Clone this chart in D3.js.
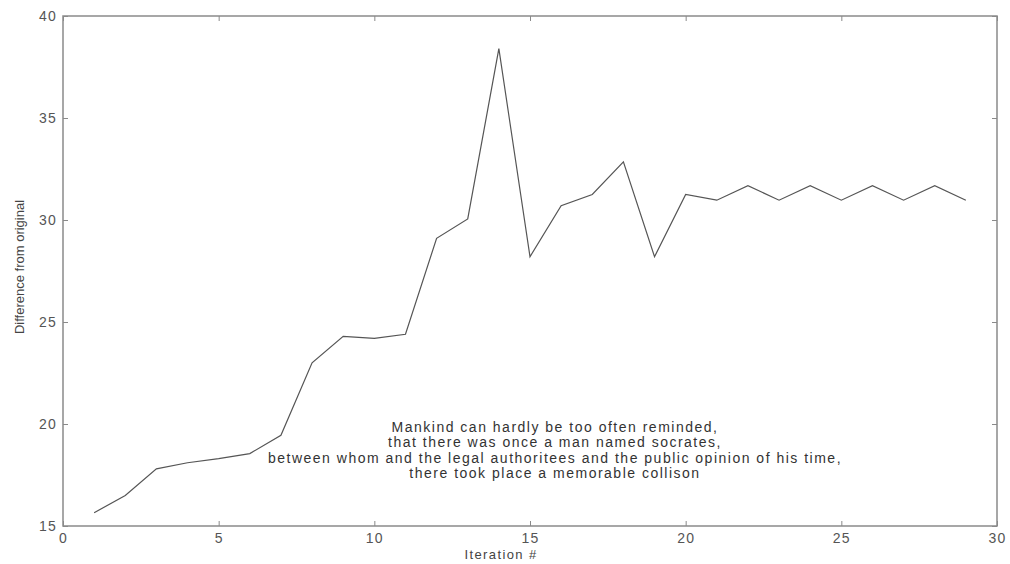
<!DOCTYPE html>
<html>
<head>
<meta charset="utf-8">
<script src="https://cdn.jsdelivr.net/npm/d3@7"></script>
<style>
  body { margin: 0; background: #fff; }
  svg { font-family: "Liberation Sans", Arial, sans-serif; }
</style>
</head>
<body>
<svg></svg>
<script>
const width = 1010;
const height = 564;
const margin = {top: 16, right: 13, bottom: 38, left: 63};

// data
const iterations = [1,2,3,4,5,6,7,8,9,10,11,12,13,14,15,16,17,18,19,20,21,22,23,24,25,26,27,28,29];
const difference = [15.65,16.5,17.8,18.1,18.3,18.55,19.45,23.0,24.3,24.2,24.4,29.1,30.05,38.4,28.2,30.7,31.25,32.85,28.2,31.25,30.97,31.68,30.97,31.68,30.97,31.68,30.97,31.68,30.97];
const xTicks = [0,5,10,15,20,25,30];
const yTicks = [15,20,25,30,35,40];
const note = [
  "Mankind can hardly be too often reminded,",
  "that there was once a man named socrates,",
  "between whom and the legal authoritees and the public opinion of his time,",
  "there took place a memorable collison"
];

const data = iterations.map((d, i) => ({x: d, y: difference[i]}));

const xScale = d3.scaleLinear()
                  .domain([0, 30])
                  .range([margin.left, width - margin.right]);

const yScale = d3.scaleLinear()
                  .domain([15, 40])
                  .range([height - margin.bottom, margin.top]);

const svg = d3.select("svg")
              .attr("width", width)
              .attr("height", height);

const axisColor = "#8a8a8a";
const labelColor = "#555";

// frame
svg.append("rect")
  .attr("x", margin.left)
  .attr("y", margin.top)
  .attr("width", width - margin.left - margin.right)
  .attr("height", height - margin.top - margin.bottom)
  .attr("fill", "none")
  .attr("stroke", axisColor)
  .attr("stroke-width", 1.5);

function styleAxis(g) {
  g.select(".domain").remove();
  g.selectAll(".tick line").attr("stroke", axisColor);
  g.selectAll(".tick text")
    .attr("fill", labelColor)
    .style("font-size", "14px")
    .style("letter-spacing", "1.2px");
}

svg.append("g")
  .attr("transform", `translate(0, ${height - margin.bottom})`)
  .call(d3.axisBottom(xScale).tickValues(xTicks).tickSize(-5).tickPadding(7))
  .call(styleAxis);

svg.append("g")
  .attr("transform", `translate(0, ${margin.top})`)
  .call(d3.axisTop(xScale).tickValues(xTicks).tickSize(-5).tickFormat(""))
  .call(styleAxis);

svg.append("g")
  .attr("transform", `translate(${margin.left}, 0)`)
  .call(d3.axisLeft(yScale).tickValues(yTicks).tickSize(-5).tickPadding(6))
  .call(styleAxis);

svg.append("g")
  .attr("transform", `translate(${width - margin.right}, 0)`)
  .call(d3.axisRight(yScale).tickValues(yTicks).tickSize(-5).tickFormat(""))
  .call(styleAxis);

const line = d3.line()
  .x(d => xScale(d.x))
  .y(d => yScale(d.y));

svg.append("path")
  .datum(data)
  .attr("d", line)
  .attr("fill", "none")
  .attr("stroke", "#555")
  .attr("stroke-width", 1.2);

// axis labels
svg.append("text")
  .attr("x", 501)
  .attr("y", 559)
  .attr("text-anchor", "middle")
  .attr("fill", "#444")
  .style("font-size", "13px")
  .style("letter-spacing", "1.4px")
  .text("Iteration #");

svg.append("text")
  .attr("transform", `translate(24, 267) rotate(-90)`)
  .attr("text-anchor", "middle")
  .attr("fill", "#444")
  .style("font-size", "13px")
  .text("Difference from original");

// annotation
svg.append("text")
  .attr("text-anchor", "middle")
  .attr("fill", "#333")
  .style("font-size", "14px")
  .style("letter-spacing", "1.5px")
  .selectAll("tspan")
  .data(note)
  .enter()
  .append("tspan")
    .attr("x", 555)
    .attr("y", (d, i) => 432 + i * 15.3)
    .text(d => d);
</script>
</body>
</html>
